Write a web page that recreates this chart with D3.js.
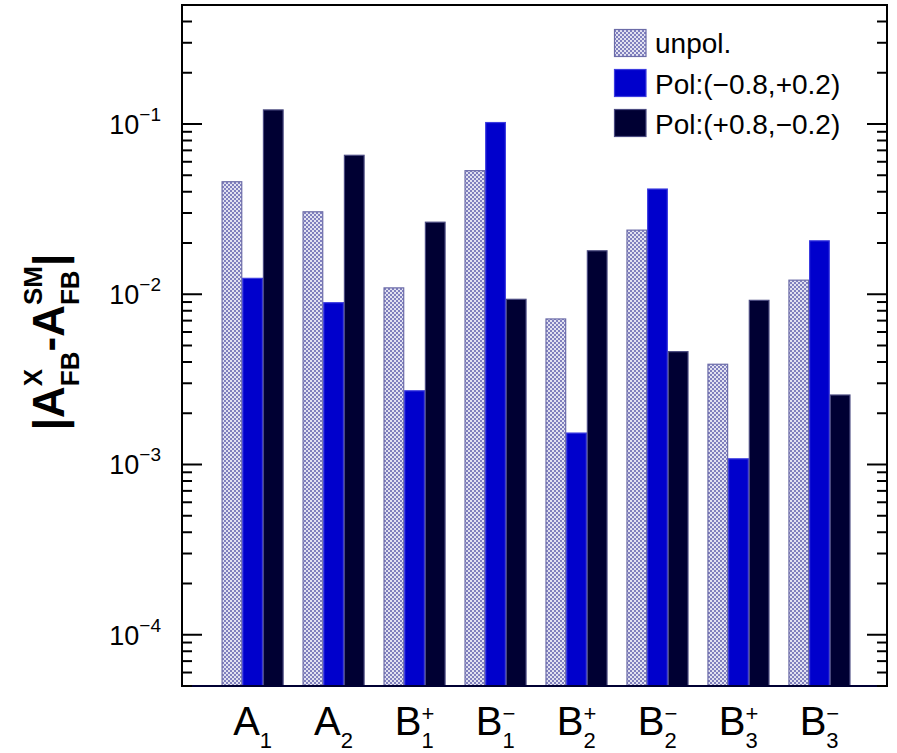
<!DOCTYPE html>
<html>
<head>
<meta charset="utf-8">
<script src="https://cdn.jsdelivr.net/npm/d3@7"></script>
<style>
  html, body { margin: 0; padding: 0; background: #fff; }
  svg { display: block; font-family: "Liberation Sans", Arial, Helvetica, sans-serif; }
</style>
</head>
<body>
<svg id="chart" width="897" height="753"></svg>
<script>
// Observable labels: base letter, subscript index, superscript sign
const catBase = ["A", "A", "B", "B", "B", "B", "B", "B"];
const catSub  = ["1", "2", "1", "1", "2", "2", "3", "3"];
const catSup  = ["",  "",  "+", "\u2212", "+", "\u2212", "+", "\u2212"];

// |A_FB^X - A_FB^SM| for each beam polarisation setting
const seriesNames = ["unpol.", "Pol:(\u22120.8,+0.2)", "Pol:(+0.8,\u22120.2)"];
const unpol    = [0.0458, 0.0305, 0.0109, 0.0532, 0.00716, 0.0238, 0.00388, 0.0121];
const polMinus = [0.0124, 0.00892, 0.00271, 0.102, 0.00153, 0.0415, 0.00108, 0.0206];
const polPlus  = [0.121, 0.0655, 0.0265, 0.00934, 0.0180, 0.00460, 0.00921, 0.00256];

const yTickExps = [-4, -3, -2, -1];

const svg = d3.select("#chart");
const plotL = 182, plotR = 887, plotT = 5, plotB = 686;

const defs = svg.append("defs");
const pat = defs.append("pattern")
  .attr("id", "dots").attr("patternUnits", "userSpaceOnUse")
  .attr("width", 4).attr("height", 4);
pat.append("rect").attr("width", 4).attr("height", 4).attr("fill", "#e2e2f1");
pat.append("rect").attr("x", 0).attr("y", 0).attr("width", 2).attr("height", 2).attr("fill", "#8080be");
pat.append("rect").attr("x", 2).attr("y", 2).attr("width", 2).attr("height", 2).attr("fill", "#8080be");

const catIdx = d3.range(catBase.length);
const x = d3.scaleBand().domain(catIdx).range([plotL, plotR])
  .paddingInner(0.234).paddingOuter(0.47).align(0.52);
const xs = d3.scaleBand().domain([0, 1, 2]).range([0, x.bandwidth()]).padding(0);
const y = d3.scaleLog().domain([5e-5, 0.5]).range([plotB, plotT]);

const fills = ["url(#dots)", "#0000cc", "#000033"];
const strokes = ["#6c6ca8", "#3c3ce0", "#4a4a80"];
const series = [unpol, polMinus, polPlus];

// bars
series.forEach((vals, s) => {
  svg.append("g").selectAll("rect").data(vals).join("rect")
    .attr("x", (d, i) => x(i) + xs(s) + 0.5)
    .attr("width", xs.bandwidth() - 1)
    .attr("y", d => y(d))
    .attr("height", d => plotB - y(d))
    .attr("fill", fills[s])
    .attr("stroke", strokes[s])
    .attr("stroke-width", 1.2);
});

// frame
svg.append("rect").attr("x", plotL).attr("y", plotT)
  .attr("width", plotR - plotL).attr("height", plotB - plotT)
  .attr("fill", "none").attr("stroke", "#000").attr("stroke-width", 2);
svg.append("line").attr("x1", plotL).attr("x2", plotR).attr("y1", plotB).attr("y2", plotB)
  .attr("stroke", "#000033").attr("stroke-width", 2.2);

// log ticks on both vertical sides
const logTicks = [];
for (let e = -5; e <= -1; e++) {
  for (let m = 1; m <= 9; m++) {
    const v = m * Math.pow(10, e);
    if (v >= 5e-5 * 0.999 && v <= 0.5 * 1.001) logTicks.push({ v, major: m === 1 });
  }
}
const tickG = svg.append("g").attr("stroke", "#000").attr("stroke-width", 2);
logTicks.forEach(t => {
  const len = t.major ? 20 : 10;
  const yy = y(t.v);
  tickG.append("line").attr("x1", plotL).attr("x2", plotL + len).attr("y1", yy).attr("y2", yy);
  tickG.append("line").attr("x1", plotR).attr("x2", plotR - len).attr("y1", yy).attr("y2", yy);
});

// one text element per label, with super- and subscripts stacked at the same x
function measure(str, size, weight) {
  const t = svg.append("text").attr("font-size", size).attr("font-weight", weight).text(str);
  const w = t.node().getComputedTextLength();
  t.remove();
  return w;
}
function rich(g, segs, opts) {
  const weight = opts.weight || "normal";
  const pieces = [];
  let cx = 0;
  segs.forEach(sg => {
    pieces.push({ t: sg.text, x: cx, y: 0, size: opts.size });
    cx += measure(sg.text, opts.size, weight);
    let w = 0;
    if (sg.sup) {
      pieces.push({ t: sg.sup, x: cx, y: opts.supShift, size: opts.small });
      w = Math.max(w, measure(sg.sup, opts.small, weight));
    }
    if (sg.sub) {
      pieces.push({ t: sg.sub, x: cx, y: opts.subShift, size: opts.small });
      w = Math.max(w, measure(sg.sub, opts.small, weight));
    }
    cx += w;
  });
  const shift = opts.anchor === "end" ? -cx : opts.anchor === "middle" ? -cx / 2 : 0;
  const text = g.append("text").attr("font-weight", weight);
  pieces.forEach(p => {
    text.append("tspan").attr("x", p.x + shift).attr("y", p.y)
      .attr("font-size", p.size).text(p.t);
  });
  return text;
}

// y tick labels
yTickExps.forEach(e => {
  const g = svg.append("g").attr("transform", `translate(161,${y(Math.pow(10, e)) + 10})`);
  rich(g, [{ text: "10", sup: "\u2212" + Math.abs(e) }],
    { size: 27, small: 19, supShift: -13, anchor: "end" });
});

// x category labels
catIdx.forEach(i => {
  const g = svg.append("g").attr("transform", `translate(${x(i) + x.bandwidth() / 2},735)`);
  rich(g, [{ text: catBase[i], sub: catSub[i], sup: catSup[i] }],
    { size: 40, small: 22, subShift: 12.5, supShift: -14, anchor: "middle" });
});

// y axis title
const yt = svg.append("g").attr("transform", "translate(64,342) rotate(-90)");
rich(yt, [
  { text: "|A", sup: "X", sub: "FB" },
  { text: "-A", sup: "SM", sub: "FB" },
  { text: "|" }
], { size: 44, small: 26, weight: "bold", supShift: -22, subShift: 15, anchor: "middle" });

// legend
const leg = svg.append("g");
const legRows = [29, 69, 109];
const legBase = [53, 94, 134];
seriesNames.forEach((name, s) => {
  leg.append("rect").attr("x", 614.5).attr("y", legRows[s] + 0.5)
    .attr("width", 31.5).attr("height", 27)
    .attr("fill", fills[s]).attr("stroke", strokes[s]).attr("stroke-width", 1.2);
  leg.append("text").attr("x", 655).attr("y", legBase[s])
    .attr("font-size", 28).text(name);
});
</script>
</body>
</html>
